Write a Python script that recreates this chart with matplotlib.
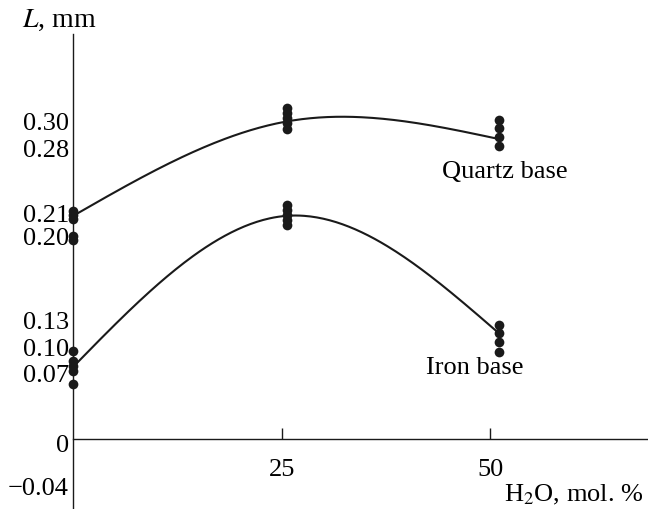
import numpy as np
import matplotlib
matplotlib.use("Agg")
import matplotlib.pyplot as plt

# ---- data (values in mm) ----
x_cols = [0.0, 25.6, 51.0]
quartz_pts = [
    [0.215, 0.211, 0.2075, 0.1915, 0.188],
    [0.312, 0.3075, 0.303, 0.298, 0.2925],
    [0.301, 0.2934, 0.2849, 0.2764],
]
iron_pts = [
    [0.083, 0.0736, 0.0689, 0.0642, 0.0519],
    [0.2208, 0.2160, 0.2113, 0.2066, 0.2019],
    [0.1075, 0.100, 0.0915, 0.082],
]
# fitted curve values at the three compositions
quartz_fit = [0.2104, 0.2995, 0.2830]
iron_fit = [0.0679, 0.2105, 0.1000]

ytick_labels = ["0.30", "0.28", "0.21", "0.20", "0.13", "0.10", "0.07", "0", "\u22120.04"]
xtick_labels = ["25", "50"]
xtick_vals = [25, 50]

# label placement (layout)
ytick_pos = [0.300, 0.2745, 0.214, 0.1915, 0.113, 0.0877, 0.0632, -0.003, -0.0443]


def natural_spline(xk, yk, n=200):
    xk = np.asarray(xk, float); yk = np.asarray(yk, float)
    m = len(xk)
    h = np.diff(xk)
    A = np.zeros((m, m)); b = np.zeros(m)
    A[0, 0] = 1; A[-1, -1] = 1
    for i in range(1, m - 1):
        A[i, i - 1] = h[i - 1]
        A[i, i] = 2 * (h[i - 1] + h[i])
        A[i, i + 1] = h[i]
        b[i] = 6 * ((yk[i + 1] - yk[i]) / h[i] - (yk[i] - yk[i - 1]) / h[i - 1])
    M = np.linalg.solve(A, b)
    xs = np.linspace(xk[0], xk[-1], n)
    ys = np.empty_like(xs)
    for j, x in enumerate(xs):
        i = min(np.searchsorted(xk, x, side='right') - 1, m - 2)
        hi = h[i]
        a = xk[i + 1] - x
        c = x - xk[i]
        ys[j] = (M[i] * a ** 3 + M[i + 1] * c ** 3) / (6 * hi) \
            + (yk[i] / hi - M[i] * hi / 6) * a + (yk[i + 1] / hi - M[i + 1] * hi / 6) * c
    return xs, ys


plt.rcParams['font.family'] = ['Liberation Serif', 'DejaVu Serif']
plt.rcParams['mathtext.fontset'] = 'stix'

W, H = 648, 510
fig = plt.figure(figsize=(W / 100, H / 100), dpi=100)
ax = fig.add_axes([73 / W, 0, (W - 73) / W, (H - 35) / H])

col = '#1a1a1a'
for fit in (quartz_fit, iron_fit):
    cx, cy = natural_spline(x_cols, fit)
    ax.plot(cx, cy, color=col, lw=1.5, zorder=2, solid_capstyle='round')

for pts in (quartz_pts, iron_pts):
    for xv, vals in zip(x_cols, pts):
        ax.plot([xv] * len(vals), vals, 'o', ms=7, color=col, mec='none', zorder=3, clip_on=False)

ax.set_xlim(0, 68.9)
ax.set_ylim(-0.066, 0.382)

for s in ['top', 'right']:
    ax.spines[s].set_visible(False)
ax.spines['bottom'].set_position(('data', 0))
ax.spines['left'].set_position(('data', 0))
for s in ['left', 'bottom']:
    ax.spines[s].set_linewidth(1.0)
    ax.spines[s].set_color(col)

fs = 19
ax.set_xticks(xtick_vals)
ax.set_xticklabels(xtick_labels, fontsize=fs)
ax.tick_params(axis='x', direction='in', length=8, width=1.0, color=col, pad=14)

ax.set_yticks(ytick_pos)
ax.set_yticklabels(ytick_labels, fontsize=fs)
ax.tick_params(axis='y', length=0, pad=3)

fig.text(22 / W, 1 - 20 / H, r'$L$, mm', fontsize=20, ha='left', va='center')
fig.text(643 / W, 1 - 495 / H, r'H$_2$O, mol. %', fontsize=fs, ha='right', va='center')

fig.text(505 / W, 1 - 172 / H, 'Quartz base', fontsize=fs, ha='center', va='center')
fig.text(475 / W, 1 - 368 / H, 'Iron base', fontsize=fs, ha='center', va='center')

fig.savefig('out.png', dpi=100)
